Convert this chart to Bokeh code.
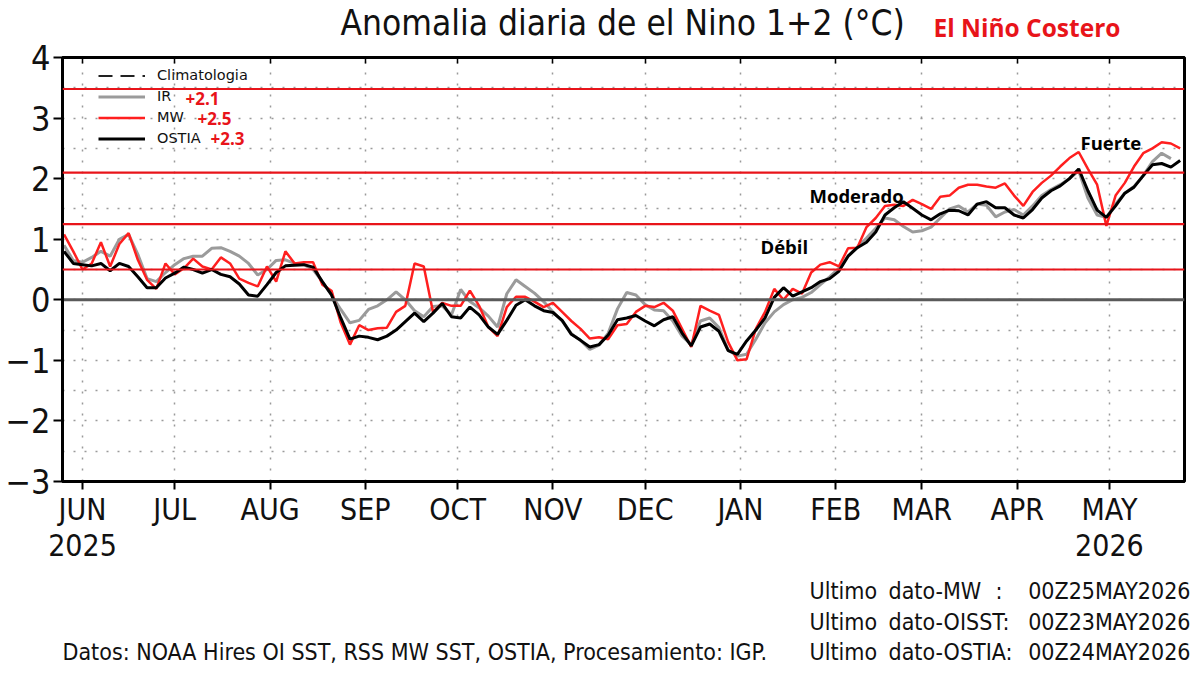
from datetime import datetime, timedelta
from bokeh.plotting import figure
from bokeh.layouts import column
from bokeh.models import (FixedTicker, Span, Label, Legend, LegendItem, Range1d, LinearAxis)
from bokeh.core.properties import value
from bokeh.embed import file_html
from bokeh.resources import INLINE

# ---------------- data (every 3 days from 26 May 2025) ----------------
start_date = datetime(2025, 5, 26)
step_days = 3

ostia = [0.80, 0.60, 0.58, 0.56, 0.60, 0.48, 0.60, 0.55, 0.38, 0.20,
         0.20, 0.36, 0.44, 0.54, 0.50, 0.44, 0.50, 0.42, 0.38, 0.26,
         0.08, 0.06, 0.25, 0.45, 0.56, 0.57, 0.58, 0.54, 0.30, 0.08,
         -0.30, -0.65, -0.60, -0.62, -0.66, -0.60, -0.50, -0.36, -0.22, -0.36,
         -0.22, -0.06, -0.28, -0.30, -0.12, -0.25, -0.45, -0.57, -0.34, -0.09,
         0.00, -0.10, -0.18, -0.21, -0.34, -0.57, -0.67, -0.78, -0.74, -0.58,
         -0.33, -0.30, -0.26, -0.35, -0.43, -0.33, -0.28, -0.55, -0.76, -0.45,
         -0.40, -0.52, -0.84, -0.90, -0.68, -0.50, -0.30, 0.04, 0.20, 0.06,
         0.13, 0.20, 0.30, 0.35, 0.47, 0.72, 0.86, 0.95, 1.12, 1.40,
         1.52, 1.62, 1.51, 1.40, 1.32, 1.42, 1.48, 1.47, 1.40, 1.58,
         1.62, 1.52, 1.52, 1.40, 1.35, 1.49, 1.68, 1.80, 1.88, 2.00,
         2.16, 1.80, 1.48, 1.36, 1.55, 1.76, 1.86, 2.05, 2.23, 2.25,
         2.19, 2.30]

ir = [0.90, 0.65, 0.62, 0.70, 0.80, 0.72, 1.00, 1.08, 0.75, 0.35,
      0.30, 0.45, 0.58, 0.68, 0.72, 0.72, 0.85, 0.86, 0.80, 0.72,
      0.60, 0.41, 0.50, 0.65, 0.66, 0.60, 0.58, 0.50, 0.30, 0.08,
      -0.16, -0.38, -0.34, -0.16, -0.10, 0.00, 0.13, 0.00, -0.18, -0.28,
      -0.11, -0.10, -0.25, 0.17, -0.03, -0.13, -0.27, -0.45, 0.10, 0.33,
      0.22, 0.11, -0.03, -0.20, -0.35, -0.56, -0.67, -0.82, -0.75, -0.55,
      -0.15, 0.12, 0.08, -0.08, -0.17, -0.18, -0.35, -0.60, -0.74, -0.35,
      -0.30, -0.46, -0.83, -0.93, -0.90, -0.65, -0.38, -0.20, -0.08, 0.00,
      0.04, 0.12, 0.25, 0.38, 0.52, 0.72, 0.87, 1.02, 1.18, 1.35,
      1.32, 1.21, 1.12, 1.14, 1.20, 1.35, 1.50, 1.55, 1.45, 1.58,
      1.56, 1.37, 1.45, 1.49, 1.40, 1.55, 1.72, 1.82, 1.90, 2.00,
      2.13, 1.68, 1.40, 1.36, 1.58, 1.76, 1.87, 2.05, 2.28, 2.42,
      2.33, float("nan")]

mw = [1.08, 0.80, 0.50, 0.60, 0.95, 0.55, 0.92, 1.10, 0.66, 0.33,
      0.18, 0.60, 0.42, 0.52, 0.68, 0.55, 0.50, 0.70, 0.60, 0.35,
      0.28, 0.22, 0.55, 0.30, 0.80, 0.60, 0.62, 0.62, 0.25, 0.15,
      -0.38, -0.74, -0.42, -0.50, -0.47, -0.46, -0.20, -0.10, 0.60, 0.55,
      -0.20, -0.05, -0.10, -0.10, 0.15, -0.10, -0.45, -0.60, -0.12, 0.05,
      0.05, -0.03, -0.12, -0.05, -0.20, -0.35, -0.48, -0.64, -0.62, -0.65,
      -0.42, -0.40, -0.20, -0.10, -0.12, -0.05, -0.18, -0.48, -0.78, -0.10,
      -0.18, -0.25, -0.70, -1.00, -0.98, -0.48, -0.20, 0.18, 0.00, 0.18,
      0.10, 0.45, 0.58, 0.62, 0.55, 0.85, 0.86, 1.20, 1.35, 1.55,
      1.57, 1.55, 1.65, 1.58, 1.50, 1.70, 1.72, 1.85, 1.90, 1.90,
      1.87, 1.85, 1.92, 1.72, 1.55, 1.78, 1.93, 2.05, 2.20, 2.34,
      2.44, 2.16, 1.90, 1.22, 1.72, 1.93, 2.20, 2.42, 2.50, 2.60,
      2.58, 2.50]

climatologia = [0.0] * len(ostia)   # anomaly of the climatology is zero

dates = [start_date + timedelta(days=step_days * i) for i in range(len(ostia))]

month_ticks = ["2025-06-01", "2025-07-01", "2025-08-01", "2025-09-01", "2025-10-01",
               "2025-11-01", "2025-12-01", "2026-01-01", "2026-02-01", "2026-03-01",
               "2026-04-01", "2026-05-01"]
month_labels = ["JUN\n2025", "JUL", "AUG", "SEP", "OCT", "NOV", "DEC", "JAN",
                "FEB", "MAR", "APR", "MAY\n2026"]
y_ticks = [-3, -2, -1, 0, 1, 2, 3, 4]
y_grid = [-3, -2.5, -2, -1.5, -1, -0.5, 0, 0.5, 1, 1.5, 2, 2.5, 3, 3.5, 4]
thresholds = [0.5, 1.25, 2.1, 3.48]

legend_names = ["Climatologia", "IR", "MW", "OSTIA"]
latest_values = ["+2.1", "+2.5", "+2.3"]
category_names = ["Débil", "Moderado", "Fuerte"]

title_text = "Anomalia diaria de el Nino 1+2 (°C)"
subtitle_text = "El Niño Costero"
source_text = "Datos: NOAA Hires OI SST, RSS MW SST, OSTIA, Procesamiento: IGP."
notes_word = ["Ultimo", "Ultimo", "Ultimo"]
notes_field = ["dato-MW", "dato-OISST:", "dato-OSTIA:"]
notes_colon = [":", "", ""]
notes_date = ["00Z25MAY2026", "00Z23MAY2026", "00Z24MAY2026"]

# ---------------- styling helpers ----------------
def ms(s):
    return datetime.strptime(s, "%Y-%m-%d").timestamp() * 1000.0

tick_ms = [ms(s) for s in month_ticks]
COND = "DejaVu Sans Condensed"
RED = "#e8141a"
TXT = "#111111"

TOP_H = 44       # title strip
MAIN_H = 526     # chart
BOT_H = 105      # notes strip
TOP0 = TOP_H + MAIN_H   # canvas y where the notes strip starts


def strip(h):
    f = figure(width=1200, height=h, output_backend="svg", toolbar_location=None,
               x_range=Range1d(0, 1200), y_range=Range1d(h, 0),
               x_axis_location=None, y_axis_location=None, min_border=0,
               frame_align=False)
    f.grid.visible = False
    f.outline_line_color = None
    f.background_fill_color = "white"
    f.border_fill_color = "white"
    return f

# ---------------- title strip ----------------
top = strip(TOP_H)
top.text(x=[340], y=[22.5], text=[title_text], text_font=value(COND), text_font_size="35px",
         text_color=TXT, text_baseline="middle")
top.text(x=[933], y=[27.3], text=[subtitle_text], text_font=value("Open Sans"),
         text_font_style="bold", text_font_size="24.5px", text_color=RED, text_baseline="middle")

# ---------------- main chart ----------------
p = figure(width=1200, height=MAIN_H, x_axis_type="datetime", output_backend="svg",
           toolbar_location=None, title=None, frame_align=False,
           x_range=Range1d(datetime(2025, 5, 25, 12), datetime(2026, 5, 25, 10)),
           y_range=Range1d(-3, 4),
           min_border_left=62, min_border_right=16, min_border_top=57 - TOP_H,
           min_border_bottom=TOP0 - 481)
p.background_fill_color = "white"
p.border_fill_color = "white"
p.outline_line_color = "black"
p.outline_line_width = 3

xa = p.xaxis[0]
xa.ticker = FixedTicker(ticks=tick_ms)
xa.major_label_overrides = {t: lab for t, lab in zip(tick_ms, month_labels)}
xa.major_label_text_font = COND
xa.major_label_text_font_size = "30px"
xa.major_label_text_color = TXT
xa.major_label_text_line_height = 1.05
xa.major_label_standoff = 2
xa.major_tick_out = 8
xa.major_tick_in = 0
xa.major_tick_line_width = 2
xa.minor_tick_line_color = None
xa.axis_line_width = 3

# short inward ticks on the top edge (no labels)
top_axis = LinearAxis(ticker=FixedTicker(ticks=tick_ms), major_tick_in=6, major_tick_out=0,
                      major_tick_line_width=1.5, minor_tick_line_color=None,
                      major_label_text_color=None, major_label_text_font_size="1px",
                      major_label_standoff=0, axis_line_width=3)
p.add_layout(top_axis, "above")

ya = p.yaxis[0]
ya.ticker = FixedTicker(ticks=y_ticks)
ya.major_label_overrides = {t: (str(t).replace("-", "\u2212")) for t in y_ticks}
ya.major_label_text_font = COND
ya.major_label_text_font_size = "34px"
ya.major_label_text_color = TXT
ya.major_label_standoff = 3
ya.major_tick_out = 9
ya.major_tick_in = 0
ya.major_tick_line_width = 2
ya.minor_tick_line_color = None
ya.axis_line_width = 3

p.xgrid.ticker = FixedTicker(ticks=tick_ms)
p.ygrid.ticker = FixedTicker(ticks=y_grid)
for g in (p.xgrid[0], p.ygrid[0]):
    g.grid_line_color = "#9a9a9a"
    g.grid_line_dash = "2 9"
    g.grid_line_width = 1.5

# zero line (grey) with the dashed climatology on top
p.add_layout(Span(location=0, dimension="width", line_color="#5a5a5a", line_width=3, level="glyph"))
clim_r = p.line(dates, climatologia, line_color="#222222", line_dash="14 8", line_width=1.8)
ir_r = p.line(dates, ir, line_color="#9b9b9b", line_width=3)
mw_r = p.line(dates, mw, line_color="#ff1f1f", line_width=2.5)
os_r = p.line(dates, ostia, line_color="black", line_width=3)

for t in thresholds:
    p.add_layout(Span(location=t, dimension="width", line_color=RED, line_width=2.2))

legend = Legend(items=[LegendItem(label=n, renderers=[r]) for n, r in
                       zip(legend_names, [clim_r, ir_r, mw_r, os_r])],
                location=(30, 327.5), orientation="vertical",
                background_fill_alpha=0, border_line_alpha=0,
                label_text_font="DejaVu Sans", label_text_font_size="14.5px",
                label_text_color=TXT,
                glyph_width=47, glyph_height=19, label_height=19, label_standoff=12,
                spacing=2, padding=6, margin=0)
p.add_layout(legend, "center")


def fx(cx):   # canvas px -> frame-relative screen x
    return cx - 62


def fy(cy):   # canvas px -> frame-relative screen y (frame bottom at canvas y=481)
    return 481 - cy


for txt, cx, cy in zip(latest_values, [185, 197, 210], [98, 118, 138]):
    p.add_layout(Label(x=fx(cx), y=fy(cy), x_units="screen", y_units="screen", text=txt,
                       text_font="Open Sans", text_font_style="bold", text_font_size="17px",
                       text_color=RED, text_baseline="middle"))

for txt, cx, cy in zip(category_names, [760, 809, 1080], [246, 195, 142]):
    p.add_layout(Label(x=fx(cx), y=fy(cy), x_units="screen", y_units="screen", text=txt,
                       text_font="Open Sans", text_font_style="bold", text_font_size="18.5px",
                       text_color="black", text_baseline="middle"))

# ---------------- notes strip (y measured from the top of the strip) ----------------
bot = strip(BOT_H)
note_y = [590 - TOP0, 621 - TOP0, 651 - TOP0]
note_font = dict(text_font=value(COND), text_font_size="23px", text_color=TXT,
                 text_baseline="middle")
bot.text(x=[62], y=[note_y[2]], text=[source_text], **note_font)
bot.text(x=[809] * 3, y=note_y, text=notes_word, **note_font)
bot.text(x=[888] * 3, y=note_y, text=notes_field, **note_font)
bot.text(x=[995] * 3, y=note_y, text=notes_colon, **note_font)
bot.text(x=[1190] * 3, y=note_y, text=notes_date, text_align="right", **note_font)

layout = column(top, p, bot, spacing=0)
open("out.html", "w").write(file_html(layout, INLINE))
